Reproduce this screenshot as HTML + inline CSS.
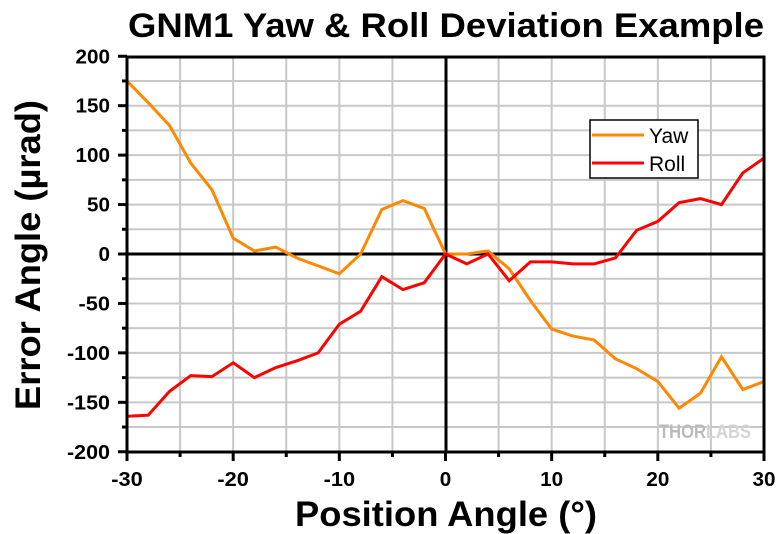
<!DOCTYPE html>
<html><head><meta charset="utf-8"><style>
body{margin:0;background:#fff;}
svg{display:block;font-family:"Liberation Sans",Arial,sans-serif;}
</style></head><body>
<svg id="s" width="780" height="534" viewBox="0 0 780 534" xmlns="http://www.w3.org/2000/svg">
<rect width="780" height="534" fill="#fff"/>
<g id="grid" stroke="#c8c8c8" stroke-width="2"></g>
<text x="705" y="438" font-size="19" font-weight="bold" fill="#bbb" text-anchor="middle" textLength="92" lengthAdjust="spacingAndGlyphs">THOR<tspan fill="#d4d4d4">LABS</tspan></text>
<g id="ticks" stroke="#000" stroke-width="3"></g>
<line x1="127" y1="254" x2="764" y2="254" stroke="#000" stroke-width="3"/>
<line x1="446" y1="57" x2="446" y2="452" stroke="#000" stroke-width="3"/>
<polyline id="yaw" fill="none" stroke="#ff8800" stroke-width="3"/>
<polyline id="roll" fill="none" stroke="#ff0000" stroke-width="3"/>
<rect x="127" y="57" width="637" height="395" fill="none" stroke="#000" stroke-width="3"/>
<rect x="590" y="120" width="108" height="58" fill="#fff" stroke="#000" stroke-width="1.5"/>
<line x1="592" y1="135" x2="644" y2="135" stroke="#ff8800" stroke-width="3"/>
<line x1="592" y1="163" x2="644" y2="163" stroke="#ff0000" stroke-width="3"/>
<text x="649" y="143" font-size="21">Yaw</text>
<text x="649" y="171" font-size="21">Roll</text>
<text x="128" y="37" font-size="34" font-weight="bold" textLength="636" lengthAdjust="spacingAndGlyphs">GNM1 Yaw &amp; Roll Deviation Example</text>
<text x="295" y="526" font-size="35" font-weight="bold" textLength="302" lengthAdjust="spacingAndGlyphs">Position Angle (°)</text>
<text transform="translate(40,410) rotate(-90)" font-size="35" font-weight="bold" textLength="310" lengthAdjust="spacingAndGlyphs">Error Angle (µrad)</text>
<g id="lbl" font-size="20.5" font-weight="bold"></g>
</svg>
<script>
var X=function(v){return 127+(v+30)*637/60;},Y=function(v){return 254-v*395.5/400;};
var ns="http://www.w3.org/2000/svg";
function el(p,t,a,txt){var e=document.createElementNS(ns,t);for(var k in a)e.setAttribute(k,a[k]);if(txt!=null)e.textContent=txt;document.getElementById(p).appendChild(e);return e;}
for(var v=-25;v<30;v+=5)el("grid","line",{x1:X(v),y1:57,x2:X(v),y2:452});
for(var v=-175;v<200;v+=25)el("grid","line",{x1:127,y1:Y(v),x2:764,y2:Y(v)});
for(var v=-30;v<=30;v+=5){el("ticks","line",{x1:X(v),y1:452,x2:X(v),y2:v%10==0?461:457});}
for(var v=-200;v<=200;v+=25){el("ticks","line",{x1:127,y1:Y(v),x2:v%50==0?118:122,y2:Y(v)});}
function w(s){return s.length*11.5-(s[0]=="-"?3:0);}
for(var v=-30;v<=30;v+=10){var s=String(v);el("lbl","text",{x:X(v)-w(s)/2,y:486,textLength:w(s),lengthAdjust:"spacingAndGlyphs"},s);}
for(var v=-200;v<=200;v+=50){var s=String(v);el("lbl","text",{x:110-w(s),y:Y(v)+7,textLength:w(s),lengthAdjust:"spacingAndGlyphs"},s);}
var yaw=[175,153,130,92,65,16,3,7,-4,-12,-20,0,45,54,46,0,0,3,-15,-47,-76,-83,-87,-106,-116,-129,-156,-141,-104,-137,-129];
var roll=[-164,-163,-139,-123,-124,-110,-125,-115,-108,-100,-71,-58,-23,-36,-29,0,-10,0,-27,-8,-8,-10,-10,-4,24,33,52,56,50,82,97];
function pts(a){return a.map(function(v,i){return X(-30+2*i).toFixed(1)+","+Y(v).toFixed(1);}).join(" ");}
document.getElementById("yaw").setAttribute("points",pts(yaw));
document.getElementById("roll").setAttribute("points",pts(roll));
</script>
</body></html>
